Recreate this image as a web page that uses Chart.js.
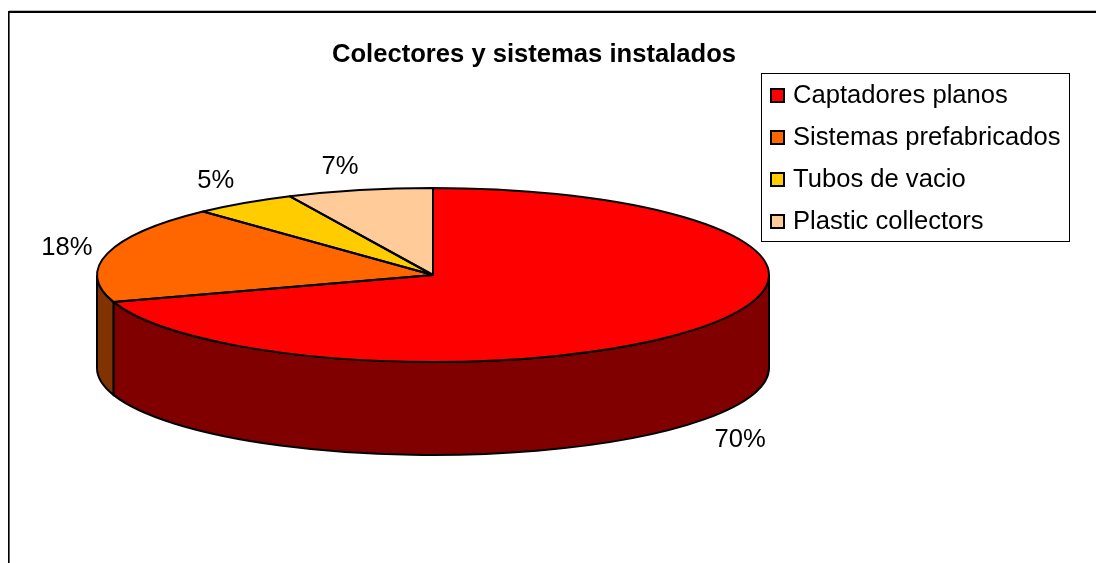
<!DOCTYPE html>
<html>
<head>
<meta charset="utf-8">
<title>Colectores y sistemas instalados</title>
<script src="https://cdn.jsdelivr.net/npm/chart.js@4"></script>
<style>
  html, body { margin: 0; padding: 0; background: #fff; overflow: hidden; }
  canvas { display: block; }
</style>
</head>
<body>
<canvas id="pie" width="1096" height="563"></canvas>
<script>
const categories  = [ 'Captadores planos', 'Sistemas prefabricados', 'Tubos de vacio', 'Plastic collectors' ];
const shares      = [ 70, 18, 5, 7 ];
const topColors   = [ '#FF0000', '#FF6600', '#FFCC00', '#FFCC99' ];
const sideColors  = [ '#800000', '#803300', '#806600', '#80664D' ];

const FONT      = '"Liberation Sans", Arial, sans-serif';
const TEXT_SIZE = 25.6;
const PIE_X     = 433;
const PIE_Y     = 275;
const PIE_RX    = 336;
const PIE_RY    = 87;
const DEPTH     = 93;
// small hand nudges so the labels sit where the original put them
const LABEL_NUDGE = [ [ 3, 4 ], [ -2, 2 ], [ -6, 1 ], [ -11, 4 ] ];

// --- the side wall of one slice, between two angles on the front half
function wallPath( ctx, a, b ) {
    ctx.beginPath();
    ctx.ellipse( PIE_X, PIE_Y, PIE_RX, PIE_RY, 0, a, b );
    ctx.ellipse( PIE_X, PIE_Y + DEPTH, PIE_RX, PIE_RY, 0, b, a, true );
    ctx.closePath();
}

const pie3d = {
    id: 'pie3d',
    beforeDraw( chart ) {
        // frame: left and top edges only, black with a grey fringe
        const ctx = chart.ctx;
        ctx.save();
        ctx.fillStyle = '#BBBBBB';
        ctx.fillRect( 9, 10, 1087, 1 );
        ctx.fillRect( 9, 12, 1, 551 );
        ctx.fillStyle = '#000';
        ctx.fillRect( 8, 11, 1088, 2 );
        ctx.fillRect( 8, 11, 1.5, 552 );
        ctx.restore();
    },
    beforeDatasetsDraw( chart ) {
        const ctx = chart.ctx;
        const arcs = chart.getDatasetMeta( 0 ).data;
        ctx.save();
        ctx.lineWidth = 2;
        ctx.strokeStyle = '#000';
        arcs.forEach( function( arc, i ) {
            const a = Math.max( arc.startAngle, 0 );
            const b = Math.min( arc.endAngle, Math.PI );
            if( b > a ) {
                wallPath( ctx, a, b );
                ctx.fillStyle = sideColors[ i ];
                ctx.fill();
                ctx.stroke();
            }
        } );
        ctx.restore();
        // squash the round pie into the tilted top
        ctx.save();
        ctx.translate( PIE_X, PIE_Y );
        ctx.scale( 1, PIE_RY / PIE_RX );
        ctx.translate( -arcs[ 0 ].x, -arcs[ 0 ].y );
    },
    afterDatasetsDraw( chart ) {
        const ctx = chart.ctx;
        ctx.restore();
        const arcs = chart.getDatasetMeta( 0 ).data;
        ctx.save();
        ctx.lineWidth = 2;
        ctx.strokeStyle = '#000';
        ctx.lineJoin = 'round';
        arcs.forEach( function( arc ) {
            ctx.beginPath();
            ctx.moveTo( PIE_X, PIE_Y );
            ctx.ellipse( PIE_X, PIE_Y, PIE_RX, PIE_RY, 0, arc.startAngle, arc.endAngle );
            ctx.closePath();
            ctx.stroke();
        } );
        // percentage labels, pushed out from the middle of each slice
        ctx.fillStyle = '#000';
        ctx.font = TEXT_SIZE + 'px ' + FONT;
        ctx.textAlign = 'center';
        ctx.textBaseline = 'middle';
        arcs.forEach( function( arc, i ) {
            const mid = ( arc.startAngle + arc.endAngle ) / 2;
            const dx = Math.cos( mid ), dy = Math.sin( mid );
            const x = PIE_X + ( PIE_RX + 40 ) * dx + LABEL_NUDGE[ i ][ 0 ];
            const y = PIE_Y + ( PIE_RY + 28 ) * dy + ( dy > 0 ? DEPTH : 0 ) + LABEL_NUDGE[ i ][ 1 ];
            ctx.fillText( shares[ i ] + '%', x, y );
        } );
        ctx.restore();
    },
    afterDraw( chart ) {
        // legend box
        const ctx = chart.ctx;
        ctx.save();
        ctx.fillStyle = '#fff';
        ctx.fillRect( 761, 73, 308, 168 );
        ctx.strokeStyle = '#000';
        ctx.lineWidth = 1;
        ctx.strokeRect( 761.5, 73.5, 308, 168 );
        ctx.font = TEXT_SIZE + 'px ' + FONT;
        ctx.textAlign = 'left';
        ctx.textBaseline = 'middle';
        categories.forEach( function( label, i ) {
            const cy = 96 + i * 42;
            ctx.fillStyle = topColors[ i ];
            ctx.fillRect( 771, cy - 7, 13, 13 );
            ctx.lineWidth = 2;
            ctx.strokeRect( 771, cy - 7, 13, 13 );
            ctx.fillStyle = '#000';
            ctx.fillText( label, 793, cy );
        } );
        ctx.restore();
    }
};

new Chart( document.getElementById( 'pie' ), {
    type: 'pie',
    data: {
        labels: categories,
        datasets: [ {
            data: shares,
            backgroundColor: topColors,
            borderWidth: 0,
            radius: PIE_RX,
        } ]
    },
    options: {
        responsive: false,
        animation: false,
        events: [],
        layout: { padding: { right: 28 } },
        plugins: {
            legend: { display: false },
            tooltip: { enabled: false },
            title: {
                display: true,
                text: 'Colectores y sistemas instalados',
                color: '#000',
                font: { family: FONT, size: TEXT_SIZE, weight: 'bold' },
                padding: { top: 40, bottom: 10 },
            }
        }
    },
    plugins: [ pie3d ]
} );
</script>
</body>
</html>
